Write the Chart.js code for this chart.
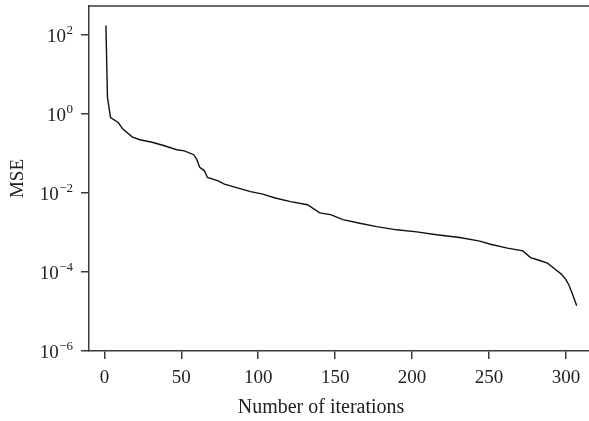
<!DOCTYPE html>
<html>
<head>
<meta charset="utf-8">
<script src="https://cdn.jsdelivr.net/npm/chart.js@4"></script>
<style>
  html, body { margin: 0; padding: 0; background: #fff; }
  canvas { display: block; }
</style>
</head>
<body>
<canvas id="c" width="589" height="421"></canvas>
<script>
// Training curve: mean squared error per iteration
const iterations = [1, 2, 4, 9, 12, 18, 23, 31, 39, 47, 52, 58, 60, 62, 65, 67, 74, 78, 95, 103,
  111, 121, 132, 140, 147, 155, 166, 177, 190, 203, 216, 231, 244, 251, 262, 272, 277, 282,
  288, 293, 297, 300, 302, 303.5, 305, 307];
const mse = [170, 2.6, 0.8, 0.6, 0.41, 0.26, 0.22, 0.19, 0.155, 0.123, 0.115, 0.092, 0.071, 0.044,
  0.036, 0.0245, 0.020, 0.0166, 0.0107, 0.0093, 0.0074, 0.006, 0.005, 0.0031, 0.0028, 0.0021,
  0.0017, 0.0014, 0.00116, 0.00103, 0.00087, 0.00074, 0.0006, 0.0005, 0.0004, 0.00034, 0.00023,
  0.0002, 0.000166, 0.000117, 8.8e-5, 6.4e-5, 4.6e-5, 3.3e-5, 2.3e-5, 1.4e-5];

const xTicks = [0, 50, 100, 150, 200, 250, 300];
const yExponents = [-6, -4, -2, 0, 2];
const xTitle = 'Number of iterations';
const yTitle = 'MSE';

const FONT = "'Liberation Serif', 'Times New Roman', serif";
const AXIS = '#3a3a3a';
const TEXT = '#222';

const points = iterations.map((x, i) => ({ x, y: mse[i] }));

// Labels, superscript exponents, titles and the top frame line
const labelPlugin = {
  id: 'labels',
  afterDraw(chart) {
    const { ctx, chartArea: a, scales: { x, y } } = chart;
    ctx.save();

    ctx.strokeStyle = AXIS;
    ctx.lineWidth = 1.5;
    ctx.beginPath();
    ctx.moveTo(a.left, a.top);
    ctx.lineTo(a.right, a.top);
    ctx.stroke();

    ctx.fillStyle = TEXT;
    // x tick labels
    ctx.font = '19px ' + FONT;
    ctx.textAlign = 'center';
    ctx.textBaseline = 'alphabetic';
    xTicks.forEach(v => {
      ctx.fillText(String(v), x.getPixelForValue(v), a.bottom + 32);
    });

    // y tick labels as 10 with superscript exponent
    yExponents.forEach(e => {
      const py = y.getPixelForValue(Math.pow(10, e));
      const sup = (e < 0 ? '\u2212' : '') + Math.abs(e);
      ctx.font = '13px ' + FONT;
      const supW = ctx.measureText(sup).width;
      const right = a.left - 16;
      ctx.textAlign = 'left';
      ctx.fillText(sup, right - supW, py - 1);
      ctx.font = '19px ' + FONT;
      const baseW = ctx.measureText('10').width;
      ctx.fillText('10', right - supW - baseW - 0.5, py + 7);
    });

    // axis titles
    ctx.font = '20px ' + FONT;
    ctx.textAlign = 'center';
    ctx.fillText(xTitle, 321, a.bottom + 62);

    ctx.translate(23, (a.top + a.bottom) / 2);
    ctx.rotate(-Math.PI / 2);
    ctx.font = '19px ' + FONT;
    ctx.fillText(yTitle, 0, 0);
    ctx.restore();
  }
};

new Chart(document.getElementById('c'), {
  type: 'scatter',
  data: {
    datasets: [{
      data: points,
      showLine: true,
      borderColor: '#111',
      borderWidth: 1.4,
      pointRadius: 0,
      tension: 0
    }]
  },
  options: {
    responsive: false,
    animation: false,
    devicePixelRatio: 1,
    layout: { padding: { left: 81, top: 6, right: 0, bottom: 62 } },
    plugins: { legend: { display: false }, tooltip: { enabled: false } },
    scales: {
      x: {
        type: 'linear',
        min: -10,
        max: 315,
        afterBuildTicks: s => { s.ticks = xTicks.map(v => ({ value: v })); },
        ticks: { display: false },
        grid: { drawOnChartArea: false, drawTicks: true, tickLength: 8, tickColor: AXIS, lineWidth: 1.5 },
        border: { display: true, color: AXIS, width: 1.5 }
      },
      y: {
        type: 'logarithmic',
        min: 1e-6,
        max: 530,
        afterBuildTicks: s => { s.ticks = yExponents.map(e => ({ value: Math.pow(10, e) })); },
        ticks: { display: false },
        grid: { drawOnChartArea: false, drawTicks: true, tickLength: 8, tickColor: AXIS, lineWidth: 1.5 },
        border: { display: true, color: AXIS, width: 1.5 }
      }
    }
  },
  plugins: [labelPlugin]
});
</script>
</body>
</html>
